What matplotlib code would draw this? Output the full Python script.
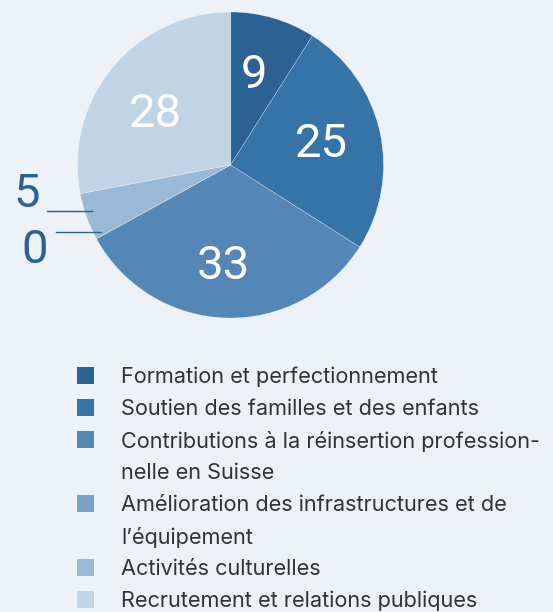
import matplotlib
matplotlib.use("Agg")
import matplotlib.pyplot as plt
import numpy as np

plt.rcParams['font.family'] = ['Inter', 'DejaVu Sans']

categories = [
    "Formation et perfectionnement",
    "Soutien des familles et des enfants",
    "Contributions à la réinsertion profession-\nnelle en Suisse",
    "Amélioration des infrastructures et de\nl’équipement",
    "Activités culturelles",
    "Recrutement et relations publiques",
]
values = [9, 25, 33, 0, 5, 28]
colors = ["#2b6293", "#3673a6", "#5487b6", "#7aa1c6", "#9ab9d6", "#c1d4e6"]

bg = "#edf1f8"
W, H = 553, 612
fig = plt.figure(figsize=(W / 100, H / 100), dpi=100, facecolor=bg)
ax = fig.add_axes([0, 0, 1, 1])
ax.set_facecolor(bg)

cx, cy, r = 230.5, H - 165, 153
wedges, _ = ax.pie(values, colors=colors, startangle=90, counterclock=False,
                   center=(cx, cy), radius=r, frame=True,
                   wedgeprops=dict(edgecolor=(1, 1, 1, 0.45), linewidth=0.4))
ax.set_xlim(0, W)
ax.set_ylim(0, H)
ax.set_aspect('equal')
ax.axis('off')

num_font = dict(family=['Roboto', 'DejaVu Sans'], fontsize=34)

# labels inside the large slices (small nudges in pixels)
nudge = {9: (-2, 2), 25: (1, 1), 33: (-4, -9), 28: (-4, -8)}
total = sum(values)
start = 90.0
for v, w in zip(values, wedges):
    mid = np.deg2rad(start - v / total * 180)
    start -= v / total * 360
    if v >= 9:
        d = 0.6 * r
        dx, dy = nudge.get(v, (0, 0))
        ax.text(cx + d * np.cos(mid) + dx, cy + d * np.sin(mid) + dy, str(v),
                color='white', ha='center', va='center', **num_font)

# small slices labelled outside
lab_col = "#2b6293"
ax.text(27, H - 194, str(values[4]), color=lab_col, ha='center',
        va='center', **num_font)
ax.plot([47, 92], [H - 211, H - 211], color=lab_col, lw=1)
ax.text(35, H - 250, str(values[3]), color=lab_col, ha='center',
        va='center', **num_font)
ax.plot([56, 101], [H - 232, H - 232], color=lab_col, lw=1)

# legend
y = 375
for lab, col in zip(categories, colors):
    ax.add_patch(plt.Rectangle((77, H - y - 8.5), 17, 17, color=col, lw=0))
    lines = lab.split("\n")
    for i, ln in enumerate(lines):
        ax.text(121, H - y - 32 * i, ln, color="#333333", fontsize=15.6,
                ha='left', va='center_baseline')
    y += 32 * len(lines)

fig.savefig("out.png", dpi=100, facecolor=bg)
